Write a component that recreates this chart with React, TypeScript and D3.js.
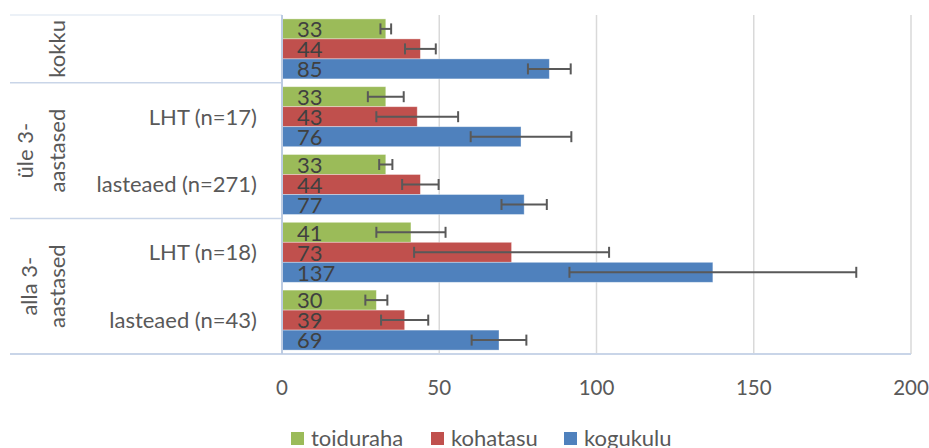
import React from "react";
import * as d3 from "d3";

const categories = ["kokku", "üle LHT", "üle lasteaed", "alla LHT", "alla lasteaed"];
const categoryLabels = ["", "LHT (n=17)", "lasteaed (n=271)", "LHT (n=18)", "lasteaed (n=43)"];
const groups = [
  { lines: ["kokku"], from: 0, to: 1 },
  { lines: ["üle 3-", "aastased"], from: 1, to: 3 },
  { lines: ["alla 3-", "aastased"], from: 3, to: 5 },
];
const seriesNames = ["toiduraha", "kohatasu", "kogukulu"];
const seriesColors = ["#9BBB59", "#C0504D", "#4F81BD"];
const toiduraha = [33, 33, 33, 41, 30];
const kohatasu = [44, 43, 44, 73, 39];
const kogukulu = [85, 76, 77, 137, 69];
const toidurahaErr = [1.7, 5.7, 2.1, 11, 3.5];
const kohatasuErr = [4.9, 13, 5.8, 31, 7.5];
const kogukuluErr = [6.8, 16, 7.2, 45.6, 8.7];
const xTicks = [0, 50, 100, 150, 200];

const values = [toiduraha, kohatasu, kogukulu];
const errors = [toidurahaErr, kohatasuErr, kogukuluErr];

const W = 929;
const H = 448;
const plotLeft = 282;
const plotRight = 911;
const plotTop = 15;
const plotBottom = 354;
const labelLeft = 10;
const FONT = "Lato, 'Open Sans', sans-serif";

export default function App() {
  const x = d3.scaleLinear().domain([0, 200]).range([plotLeft, plotRight]);
  const y = d3.scaleBand<string>().domain(categories).range([plotTop, plotBottom]).padding(0);
  const ys = d3
    .scaleBand<string>()
    .domain(seriesNames)
    .range([0, y.bandwidth()])
    .paddingInner(0)
    .paddingOuter(0.195);
  const bh = ys.bandwidth();
  const cap = 5.5;

  const sepYs = [plotTop, ...groups.map((g) => y(categories[g.to - 1])! + y.bandwidth())];

  return (
    <svg
      width={W}
      height={H}
      style={{ position: "absolute", left: 0, top: 0, background: "#fff" }}
      fontFamily={FONT}
    >
      {/* gridlines */}
      {xTicks.slice(1).map((t) => (
        <line key={t} x1={x(t)} x2={x(t)} y1={plotTop} y2={plotBottom} stroke="#d9d9d9" strokeWidth={1.5} />
      ))}
      {/* label-area separators */}
      {sepYs.map((sy, i) => (
        <line
          key={i}
          x1={labelLeft}
          x2={plotLeft}
          y1={sy}
          y2={sy}
          stroke={i === 0 ? "#e6ecf5" : "#c9d5e8"}
          strokeWidth={1.5}
        />
      ))}
      <line x1={labelLeft} x2={plotRight} y1={plotBottom} y2={plotBottom} stroke="#c9d5e8" strokeWidth={2} />
      {/* bars */}
      {categories.map((c, ci) =>
        seriesNames.map((s, si) => {
          const v = values[si][ci];
          const by = y(c)! + ys(s)!;
          return (
            <rect
              key={c + s}
              x={x(0)}
              y={by}
              width={x(v) - x(0)}
              height={bh}
              fill={seriesColors[si]}
              stroke="rgba(255,255,255,0.45)"
              strokeWidth={0.8}
            />
          );
        })
      )}
      {/* axis line */}
      <line x1={plotLeft} x2={plotLeft} y1={plotTop} y2={plotBottom} stroke="#bccbe2" strokeWidth={2} />
      {/* error bars */}
      {categories.map((c, ci) =>
        seriesNames.map((s, si) => {
          const v = values[si][ci];
          const e = errors[si][ci];
          const cy = y(c)! + ys(s)! + bh / 2;
          return (
            <g key={"e" + c + s} stroke="#595959" strokeWidth={2}>
              <line x1={x(v - e)} x2={x(v + e)} y1={cy} y2={cy} />
              <line x1={x(v - e)} x2={x(v - e)} y1={cy - cap} y2={cy + cap} />
              <line x1={x(v + e)} x2={x(v + e)} y1={cy - cap} y2={cy + cap} />
            </g>
          );
        })
      )}
      {/* value labels */}
      {categories.map((c, ci) =>
        seriesNames.map((s, si) => {
          const v = values[si][ci];
          const cy = y(c)! + ys(s)! + bh / 2;
          return (
            <text key={"v" + c + s} x={x(0) + 15} y={cy + 8.3} fontSize={22} fill="#404040">
              {v}
            </text>
          );
        })
      )}
      {/* category labels */}
      {categories.map((c, ci) => (
        <text
          key={"c" + c}
          x={257}
          y={y(c)! + y.bandwidth() / 2 + 7.8}
          textAnchor="end"
          fontSize={22}
          fill="#595959"
        >
          {categoryLabels[ci]}
        </text>
      ))}
      {/* group labels */}
      {groups.map((g, gi) => {
        const y0 = y(categories[g.from])!;
        const y1 = y(categories[g.to - 1])! + y.bandwidth();
        const cy = (y0 + y1) / 2;
        const n = g.lines.length;
        return g.lines.map((ln, li) => {
          const cx = n === 1 ? 57 : li === 0 ? (gi === 1 ? 25 : 29) : 57.5;
          return (
            <text
              key={"g" + gi + li}
              transform={`translate(${cx + 7.5},${cy}) rotate(-90)`}
              textAnchor="middle"
              fontSize={22}
              fill="#595959"
            >
              {ln}
            </text>
          );
        });
      })}
      {/* x tick labels */}
      {xTicks.map((t) => (
        <text key={"t" + t} x={x(t)} y={395} textAnchor="middle" fontSize={20.5} fill="#595959">
          {t}
        </text>
      ))}
      {/* legend */}
      {seriesNames.map((s, si) => {
        const lx = [291, 431, 564][si];
        return (
          <g key={"l" + s}>
            <rect x={lx} y={432} width={13} height={13} fill={seriesColors[si]} />
            <text x={lx + 20} y={445.5} fontSize={22} fill="#595959">
              {s}
            </text>
          </g>
        );
      })}
    </svg>
  );
}
